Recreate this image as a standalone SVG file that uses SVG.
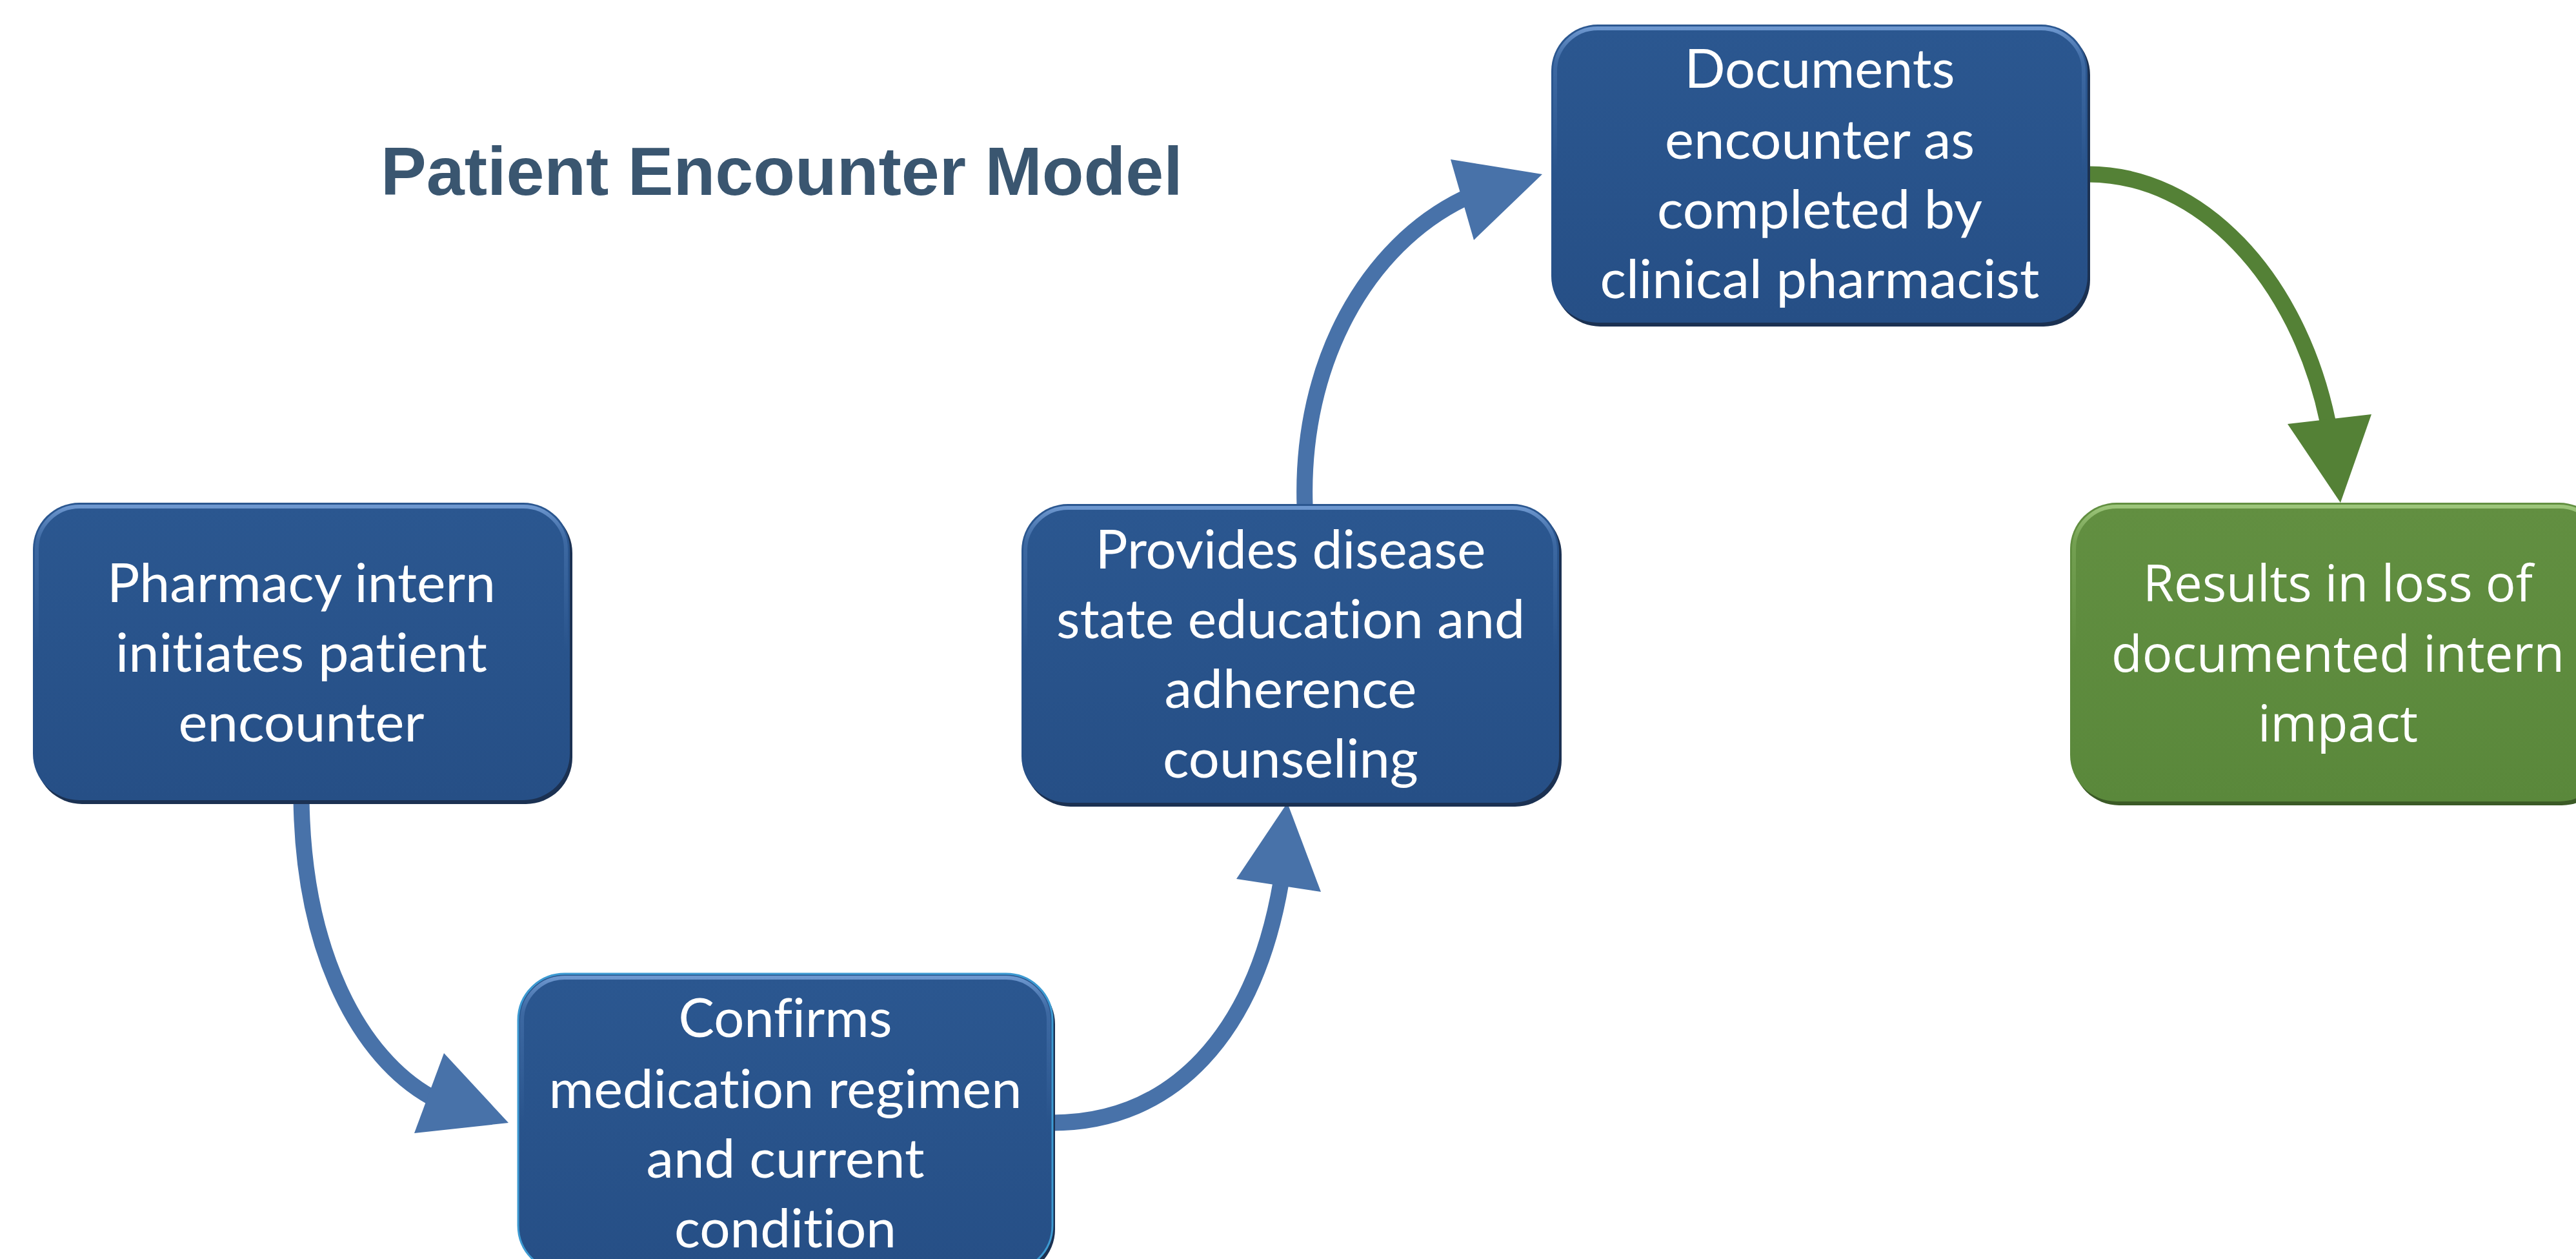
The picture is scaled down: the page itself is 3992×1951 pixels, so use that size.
<svg xmlns="http://www.w3.org/2000/svg" width="3992" height="1951" viewBox="0 0 3992 1951">
<defs>
<linearGradient id="fillBlue" x1="0" y1="0" x2="0" y2="1">
<stop offset="0" stop-color="#2b5790"/>
<stop offset="1" stop-color="#264f86"/>
</linearGradient>
<linearGradient id="hlBlue" x1="0" y1="0" x2="0" y2="1">
<stop offset="0" stop-color="#6d97cf" stop-opacity="1"/>
<stop offset="0.12" stop-color="#4f7bb5" stop-opacity="0.5"/>
<stop offset="0.5" stop-color="#4f7bb5" stop-opacity="0"/>
</linearGradient>
<linearGradient id="fillGreen" x1="0" y1="0" x2="0" y2="1">
<stop offset="0" stop-color="#628f41"/>
<stop offset="1" stop-color="#5a883b"/>
</linearGradient>
<linearGradient id="hlGreen" x1="0" y1="0" x2="0" y2="1">
<stop offset="0" stop-color="#9cc57a" stop-opacity="1"/>
<stop offset="0.12" stop-color="#86b263" stop-opacity="0.5"/>
<stop offset="0.5" stop-color="#86b263" stop-opacity="0"/>
</linearGradient>
</defs>
<style>
.shadowB{fill:#1b3152}
.boxB{fill:url(#fillBlue)}
.hlB{fill:none;stroke:url(#hlBlue);stroke-width:6}
.shadowG{fill:#3b5a26}
.boxG{fill:url(#fillGreen)}
.hlG{fill:none;stroke:url(#hlGreen);stroke-width:6}
.lbl{font-family:Lato,"Open Sans","Liberation Sans",sans-serif;font-size:84px;fill:#ffffff;text-anchor:middle;font-variant-ligatures:none;font-feature-settings:"liga" 0,"clig" 0,"dlig" 0}
.lblG{font-family:"Open Sans","Noto Sans","Liberation Sans",sans-serif;font-size:78px;fill:#ffffff;text-anchor:middle}
.title{font-family:"Liberation Sans",Arial,sans-serif;font-weight:bold;font-size:106px;fill:#3a5670}
.shaftB{fill:none;stroke:#4872a9;stroke-width:25}
.headB{fill:#4872a9}
.shaftG{fill:none;stroke:#548136;stroke-width:25}
.headG{fill:#548136}
</style>
<rect x="0" y="0" width="3992" height="1951" fill="#ffffff"/>

<text id="title" class="title" x="590" y="302">Patient Encounter Model</text>

<g id="connectors">
<path class="shaftB" d="M467,1238 C470,1480 560,1640 668,1700"/>
<polygon class="headB" points="688,1632 642,1756 788,1740"/>
<path class="shaftB" d="M1630,1740 C1820,1740 1945,1600 1985,1368"/>
<polygon class="headB" points="1916,1362 2047,1382 1995,1244"/>
<path class="shaftB" d="M2022,783 C2015,560 2120,380 2268,308"/>
<polygon class="headB" points="2248,247 2284,372 2390,270"/>
<path class="shaftG" d="M3236,270 C3410,270 3560,430 3607,652"/>
<polygon class="headG" points="3545,657 3675,642 3627,779"/>
</g>

<g id="node1">
<rect class="shadowB" x="55" y="785" width="832" height="461" rx="72"/>
<rect class="boxB" x="51" y="779" width="832" height="461" rx="72"/>
<rect class="hlB" x="57" y="785" width="820" height="449" rx="66"/>
<text class="lbl" x="467" y="933" textLength="602" lengthAdjust="spacingAndGlyphs">Pharmacy intern</text>
<text class="lbl" x="467" y="1041" textLength="576" lengthAdjust="spacingAndGlyphs">initiates patient</text>
<text class="lbl" x="467" y="1149" textLength="381" lengthAdjust="spacingAndGlyphs">encounter</text>
</g>

<g id="node2">
<rect class="shadowB" x="807" y="1515" width="828" height="462" rx="72"/>
<rect class="boxB" x="803" y="1509" width="828" height="462" rx="72" stroke="#3d9ad2" stroke-width="3"/>
<rect class="hlB" x="809" y="1515" width="816" height="450" rx="66"/>
<text class="lbl" x="1217" y="1607" textLength="331" lengthAdjust="spacingAndGlyphs">Confirms</text>
<text class="lbl" x="1217" y="1717" textLength="733" lengthAdjust="spacingAndGlyphs">medication regimen</text>
<text class="lbl" x="1217" y="1825" textLength="431" lengthAdjust="spacingAndGlyphs">and current</text>
<text class="lbl" x="1217" y="1933" textLength="344" lengthAdjust="spacingAndGlyphs">condition</text>
</g>

<g id="node3">
<rect class="shadowB" x="1587" y="787" width="833" height="463" rx="72"/>
<rect class="boxB" x="1583" y="781" width="833" height="463" rx="72"/>
<rect class="hlB" x="1589" y="787" width="821" height="451" rx="66"/>
<text class="lbl" x="2000" y="881" textLength="605" lengthAdjust="spacingAndGlyphs">Provides disease</text>
<text class="lbl" x="2000" y="989" textLength="726" lengthAdjust="spacingAndGlyphs">state education and</text>
<text class="lbl" x="2000" y="1097" textLength="391" lengthAdjust="spacingAndGlyphs">adherence</text>
<text class="lbl" x="2000" y="1205" textLength="396" lengthAdjust="spacingAndGlyphs">counseling</text>
</g>

<g id="node4">
<rect class="shadowB" x="2408" y="44" width="831" height="462" rx="72"/>
<rect class="boxB" x="2404" y="38" width="831" height="462" rx="72"/>
<rect class="hlB" x="2410" y="44" width="819" height="450" rx="66"/>
<text class="lbl" x="2820" y="136" textLength="419" lengthAdjust="spacingAndGlyphs">Documents</text>
<text class="lbl" x="2820" y="246" textLength="480" lengthAdjust="spacingAndGlyphs">encounter as</text>
<text class="lbl" x="2820" y="354" textLength="504" lengthAdjust="spacingAndGlyphs">completed by</text>
<text class="lbl" x="2820" y="462" textLength="681" lengthAdjust="spacingAndGlyphs">clinical pharmacist</text>
</g>

<g id="node5">
<rect class="shadowG" x="3212" y="785" width="830" height="463" rx="72"/>
<rect class="boxG" x="3208" y="779" width="830" height="463" rx="72"/>
<rect class="hlG" x="3214" y="785" width="818" height="451" rx="66"/>
<text class="lblG" x="3623" y="932">Results in loss of</text>
<text class="lblG" x="3623" y="1041">documented intern</text>
<text class="lblG" x="3623" y="1149">impact</text>
</g>
</svg>
